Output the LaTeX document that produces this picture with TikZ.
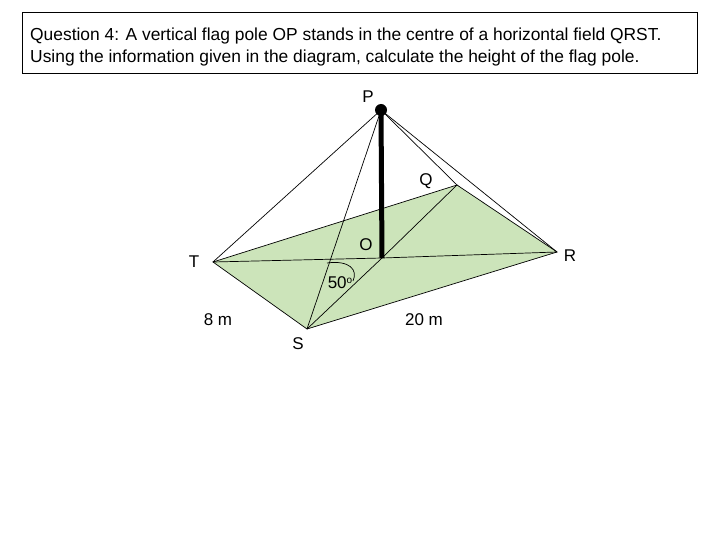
\documentclass[tikz,border=0pt]{standalone}
\usepackage{fontspec}
\setmainfont{Liberation Sans}
\definecolor{field}{HTML}{CCE4BA}
\begin{document}
\begin{tikzpicture}[x=1pt,y=-1pt,
  lbl/.style={font=\fontsize{17}{20}\selectfont, inner sep=0pt},
  edge/.style={draw=black, line width=0.7pt}]
\useasboundingbox (0,0) rectangle (720,540);
\node[draw, line width=0.8pt, minimum width=675pt, minimum height=61pt, anchor=north west, inner sep=0pt] (box) at (22,12) {};
\node[anchor=north west, align=left, inner sep=0pt, font=\fontsize{17.4}{22}\selectfont] (title) at (30,28) {Question 4: A vertical flag pole OP stands in the centre of a horizontal field QRST.\\Using the information given in the diagram, calculate the height of the flag pole.};
\coordinate (T) at (213,262);
\coordinate (S) at (307,329);
\coordinate (R) at (557,252);
\coordinate (Q) at (457,185);
\coordinate (O) at (382,258);
\coordinate (P) at (381,110);
\fill[field] (T) -- (S) -- (R) -- (Q) -- cycle;
\draw[edge] (T) -- (S) -- (R) -- (Q) -- cycle;
\draw[edge] (T) -- (O) -- (R);
\draw[edge] (S) -- (O) -- (Q);
\draw[edge] (P) -- (T);
\draw[edge] (P) -- (S);
\draw[edge] (P) -- (Q);
\draw[edge] (P) -- (R);
\draw[line width=5pt] (O) -- (P);
\fill (P) circle (6);
\draw[edge] (327,263) .. controls (350,260) and (358,270) .. (353,281);
\node[lbl] (lP) at (368,97) {P};
\node[lbl] (lQ) at (426,181) {Q};
\node[lbl] (lO) at (366,245) {O};
\node[lbl] (lR) at (570,256) {R};
\node[lbl] (lT) at (194,262) {T};
\node[lbl] (lS) at (298,344) {S};
\node[lbl] (la) at (340,283) {50\raisebox{0.6ex}{\fontsize{10}{11}\selectfont o}};
\node[lbl] (l8) at (218,320) {8 m};
\node[lbl] (l20) at (424,320) {20 m};
\end{tikzpicture}
\end{document}
